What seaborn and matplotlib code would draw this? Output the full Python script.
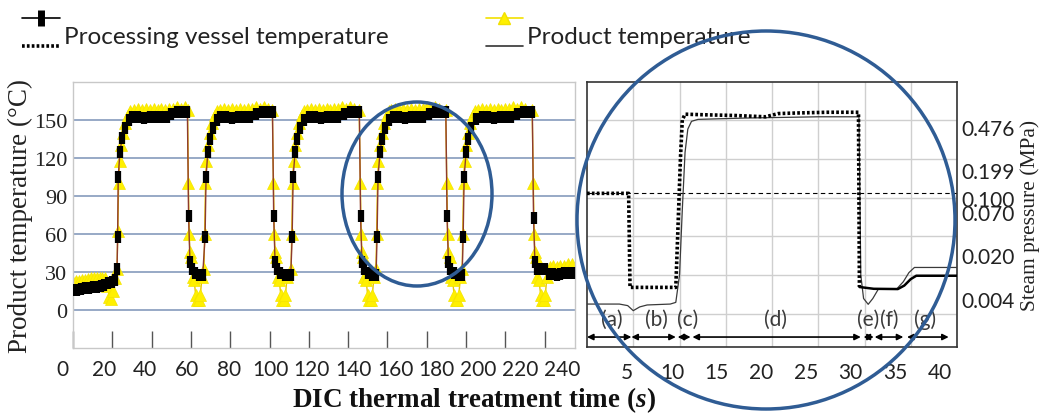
import matplotlib
matplotlib.use("Agg")
import numpy as np
import pandas as pd
import seaborn as sns
import matplotlib.pyplot as plt
from matplotlib.lines import Line2D
from matplotlib.patches import Ellipse
from matplotlib.legend_handler import HandlerBase
from matplotlib.transforms import ScaledTranslation

# ---------------- data : left panel (whole DIC run) ----------------
VESSEL_TIME = [0, 2, 4, 6, 8, 10, 12, 14, 16, 18, 20, 21.5,
               22.4, 22.7, 23.0, 23.9, 25.0, 26.5, 28.5, 30, 33, 36, 39, 42, 45, 48, 50, 53, 56, 58.2,
               58.8, 59.5, 60.5, 62, 64, 66,
               67.2, 67.7, 68.6, 69.7, 71.2, 73.5, 75, 78, 81, 84, 87, 90, 93, 96, 99, 101.5,
               102.1, 102.8, 103.8, 105.5, 108, 110.8,
               111.5, 112, 113, 114, 115.5, 117.5, 120, 123, 126, 129, 132, 135, 138, 141, 144, 145.7,
               146.3, 147, 148, 150, 152, 154.2,
               154.7, 155.2, 156.2, 157.2, 158.7, 160.7, 163, 166, 169, 172, 175, 178, 181, 184, 187, 189.7,
               190.3, 191, 192, 194, 196, 198,
               198.5, 199, 200, 201, 202.5, 205, 208, 211, 214, 217, 220, 223, 226, 229, 232, 233.7,
               234.3, 235, 236, 238, 240, 242, 244, 246, 248, 250, 252, 254]
VESSEL_TEMP = [16, 16, 16.5, 17, 17.5, 18, 18, 19, 20, 21, 22, 24,
               32, 58, 105, 125, 136, 144, 150, 152, 152, 151.5, 152, 152, 152.5, 152, 155, 156, 156, 156,
               74, 38, 32, 29, 28, 28,
               58, 105, 125, 135, 144, 150, 152, 152, 151.5, 152, 152, 152, 155, 156, 156, 156,
               74, 38, 32, 29, 28, 28,
               58, 105, 125, 135, 144, 150, 152, 152, 151.5, 152, 152, 152, 155, 156, 156, 156,
               74, 38, 32, 29, 28, 28,
               58, 105, 125, 135, 144, 150, 152, 152, 151.5, 152, 152, 152, 155, 156, 156, 156,
               74, 38, 32, 29, 28, 28,
               58, 105, 125, 135, 144, 151, 152, 152, 151.5, 152, 152, 152, 155, 156, 156, 156,
               73, 38, 32, 32, 32, 28.5, 28.5, 28, 28.5, 29, 29, 29]

PRODUCT_TIME = [0, 1.5, 3, 4.5, 6, 7.5, 9, 10.5, 12, 13.5, 15, 16.5, 17.5, 18.5, 19.5, 20.5, 21.5,
                22.4, 22.8, 23.2, 23.7, 24.4, 25.3, 26.5, 27.8, 29, 31, 33, 35, 37, 39, 41, 43, 45, 47, 49, 51, 53, 55, 57, 58.3,
                58.7, 59.1, 59.5, 60.2, 60.8, 61.6, 62.4, 63.2, 64.0, 64.8, 65.6, 66.6,
                67.0, 67.4, 67.9, 68.6, 69.5, 70.7, 72, 73.2, 75, 77, 79, 81, 83, 85, 87, 89, 91, 93, 95, 97, 99, 101.4,
                102.0, 102.4, 102.8, 103.5, 104.1, 104.9, 105.7, 106.5, 107.3, 108.1, 108.9, 110.9,
                111.3, 111.7, 112.2, 112.9, 113.8, 115, 116.3, 117.5, 119, 121, 123, 125, 127, 129, 131, 133, 135, 137, 139, 141, 143, 145.6,
                146.2, 146.6, 147, 147.7, 148.3, 149.1, 149.9, 150.7, 151.5, 152.3, 153.1, 154.1,
                154.5, 154.9, 155.4, 156.1, 157, 158.2, 159.5, 160.7, 162, 164, 166, 168, 170, 172, 174, 176, 178, 180, 182, 184, 186, 189.6,
                190.2, 190.6, 191, 191.7, 192.3, 193.1, 193.9, 194.7, 195.5, 196.3, 197.1, 198,
                198.3, 198.7, 199.2, 199.9, 200.8, 202, 203.3, 204.5, 206, 208, 210, 212, 214, 216, 218, 220, 222, 224, 226, 228, 230, 233.6,
                234.2, 234.6, 235, 235.7, 236.3, 237.1, 237.9, 238.7, 239.5, 240.3, 241.1, 242.5, 244, 246, 248, 250, 252, 254]
PRODUCT_TEMP = [22, 23, 23, 24, 24, 24.5, 25, 25, 25.5, 25.5, 25.5, 25, 19, 10, 9, 15, 25,
                32, 62, 100, 118, 130, 140, 148, 154, 157, 158, 159, 158, 159, 158, 159, 158, 159, 158, 159, 159, 160, 159, 160, 158,
                100, 60, 46, 42, 26, 24, 12, 8, 8, 12, 26, 32,
                60, 100, 118, 130, 140, 148, 154, 157, 158, 159, 158, 159, 158, 159, 158, 159, 159, 160, 159, 160, 159, 158,
                100, 60, 46, 42, 26, 24, 12, 8, 8, 12, 26, 32,
                60, 100, 118, 130, 140, 148, 154, 157, 158, 159, 158, 159, 158, 159, 158, 159, 159, 160, 159, 160, 159, 158,
                100, 60, 46, 42, 26, 24, 12, 8, 8, 12, 26, 32,
                60, 100, 118, 130, 140, 148, 154, 157, 158, 159, 158, 159, 158, 159, 158, 159, 159, 160, 159, 160, 159, 158,
                100, 60, 46, 42, 26, 24, 12, 8, 8, 12, 26, 32,
                60, 100, 118, 130, 140, 148, 154, 157, 158, 159, 158, 159, 158, 159, 158, 159, 159, 160, 159, 160, 159, 158,
                100, 60, 46, 42, 26, 24, 12, 8, 8, 12, 26, 34, 35, 34, 35, 35, 36, 36]

LEFT_XTICKS = [0, 20, 40, 60, 80, 100, 120, 140, 160, 180, 200, 220, 240]
LEFT_YTICKS = [0, 30, 60, 90, 120, 150]

# ---------------- data : right panel (one cycle, zoom) ----------------
R_VESSEL_TIME = [0, 4.5, 4.65, 9.6, 9.8, 10.1, 10.3, 10.6, 13, 16, 19.3, 20.7, 23, 26, 29.35, 29.45]
R_VESSEL_TEMP = [93.3, 93.3, 20.6, 20.6, 60, 120, 150, 154.5, 154, 153.5, 152.5, 155, 155.5, 156, 156, 20.9]
R_TAIL_TIME = [29.45, 31, 33.6, 34.3, 35.0, 35.6, 40]
R_TAIL_TEMP = [20.9, 19.5, 19.3, 22, 27, 29.6, 29.6]
R_PRODUCT_TIME = [0, 3.5, 4.4, 5.0, 5.7, 6.5, 9.0, 9.6, 10.0, 10.3, 10.6, 10.9, 11.3, 12, 17, 21, 25, 29.4,
                  29.6, 29.9, 30.4, 30.9, 31.5, 33.5, 34.2, 34.8, 35.4, 40]
R_PRODUCT_TEMP = [7.7, 7.7, 6.5, 2.6, 5.5, 7.0, 7.7, 9, 30, 80, 125, 143, 149, 150.5, 151.5, 152, 152.5, 152.5,
                  30, 12, 7.5, 12, 19.3, 19.5, 25, 32, 36, 36]
REF_LEVEL = 93.3
R_XTICKS = [5, 10, 15, 20, 25, 30, 35, 40]
R_YGRID = [0, 30, 60, 90, 120, 150]

PHASE_LABELS = ["(a)", "(b)", "(c)", "(d)", "(e)", "(f)", "(g)"]
PHASE_START = [0, 4.8, 9.8, 11.4, 29.9, 31.1, 34.6]
PHASE_END = [4.8, 9.6, 11.2, 29.6, 31.0, 34.2, 39.1]
PHASE_LABEL_AT = [2.7, 7.5, 10.9, 20.4, 30.4, 32.7, 36.6]

PRESSURE_TEMP = [150, 120, 100, 90, 60, 29]
PRESSURE_LABELS = ["0.476", "0.199", "0.100", "0.070", "0.020", "0.004"]

# ---------------- style ----------------
sns.set_style("white")
plt.rcParams["font.family"] = ["Lato", "DejaVu Sans"]
plt.rcParams["mathtext.fontset"] = "custom"
plt.rcParams["mathtext.it"] = "Liberation Serif:italic:bold"
plt.rcParams["mathtext.rm"] = "Liberation Serif:bold"

W, H = 1039, 414
DPI = 100
def fx(px):
    return px / W
def fy(py):
    return 1 - py / H

fig = plt.figure(figsize=(W / DPI, H / DPI), dpi=DPI)
fig.patch.set_facecolor("white")

axL = fig.add_axes([fx(73), fy(349), (575 - 73) / W, (349 - 83) / H])
axR = fig.add_axes([fx(587), fy(348), (957 - 587) / W, (348 - 83) / H])

SERIF = "Liberation Serif"

def shift_labels(labels, first_dx, last_dx):
    n = len(labels)
    for i, lab in enumerate(labels):
        dx = first_dx + (last_dx - first_dx) * i / (n - 1)
        lab.set_transform(lab.get_transform() + ScaledTranslation(dx / DPI, 0, fig.dpi_scale_trans))

# ---------- left panel ----------
sns.lineplot(x=PRODUCT_TIME, y=PRODUCT_TEMP, ax=axL, sort=False, estimator=None,
             color="#E8C400", lw=1.0, marker="^", markersize=8,
             markerfacecolor="#FFF000", markeredgecolor="#F4E400", markeredgewidth=0.5, zorder=2)
sns.lineplot(x=VESSEL_TIME, y=VESSEL_TEMP, ax=axL, sort=False, estimator=None,
             color="#8E3B2E", lw=1.0, marker="|", markersize=8,
             markeredgewidth=4.5, markeredgecolor="black", zorder=3)
axL.set_xlim(0, 255.4)
axL.set_ylim(-30, 180)
axL.set_xticks(LEFT_XTICKS)
axL.set_xticklabels([str(v) for v in LEFT_XTICKS])
axL.set_yticks(LEFT_YTICKS)
axL.set_yticklabels([str(v) for v in LEFT_YTICKS])
axL.yaxis.grid(True, color="#8FA3C2", lw=1.3)
axL.xaxis.grid(False)
axL.set_axisbelow(True)
axL.tick_params(axis="x", direction="in", length=12, width=1, color="#555555",
                labelsize=15, pad=8, bottom=True, labelcolor="#222222")
axL.tick_params(axis="y", length=0, labelsize=16, pad=4, labelcolor="#222222")
for lab in axL.get_yticklabels():
    lab.set_fontfamily(SERIF)
shift_labels(axL.get_xticklabels(), -11, 17)
for sp in axL.spines.values():
    sp.set_color("#C8C8C8")
    sp.set_linewidth(1)
axL.set_xlabel("")
axL.set_ylabel("Product temperature (°C)", fontsize=19.5, family=SERIF, color="#222222", labelpad=1)

# ---------- right panel ----------
axR.axhline(REF_LEVEL, color="black", lw=0.8, ls=(0, (4, 3)), zorder=2)
sns.lineplot(x=R_PRODUCT_TIME, y=R_PRODUCT_TEMP, ax=axR, sort=False, estimator=None,
             color="#3a3a3a", lw=0.9, zorder=3)
sns.lineplot(x=R_VESSEL_TIME, y=R_VESSEL_TEMP, ax=axR, sort=False, estimator=None,
             color="black", lw=2.6, linestyle=(0, (0.75, 0.6)), zorder=4)
sns.lineplot(x=R_TAIL_TIME, y=R_TAIL_TEMP, ax=axR, sort=False, estimator=None,
             color="black", lw=1.8, zorder=4)
axR.set_xlim(0, 40)
axR.set_ylim(-25.5, 179.4)
axR.set_xticks(R_XTICKS)
axR.set_xticklabels([str(v) for v in R_XTICKS])
axR.set_yticks(R_YGRID)
axR.grid(True, color="#CFCFCF", lw=1)
axR.set_axisbelow(True)
axR.tick_params(axis="x", direction="in", length=5, width=1, color="#333333",
                labelsize=15, pad=11, labelcolor="#222222")
axR.tick_params(axis="y", length=0, labelleft=False)
shift_labels(axR.get_xticklabels(), -6, -17)
for sp in axR.spines.values():
    sp.set_color("#333333")
    sp.set_linewidth(1.2)

arrow_y = -17.8
label_y = -3.9
for s, e in zip(PHASE_START, PHASE_END):
    axR.annotate("", xy=(e, arrow_y), xytext=(s, arrow_y),
                 arrowprops=dict(arrowstyle="<|-|>", color="black", lw=1.2,
                                 mutation_scale=9, shrinkA=0, shrinkB=0), zorder=5)
for lab, xp in zip(PHASE_LABELS, PHASE_LABEL_AT):
    axR.text(xp, label_y, lab, ha="center", va="center", fontsize=15, color="#3a3a3a", zorder=5)

ax2 = axR.twinx()
ax2.set_ylim(-4.9, 181.7)
ax2.set_yticks(PRESSURE_TEMP)
ax2.set_yticklabels(PRESSURE_LABELS)
ax2.tick_params(axis="y", length=0, labelsize=15, pad=3, labelcolor="#222222")
ax2.grid(False)
for sp in ax2.spines.values():
    sp.set_visible(False)
ax2.set_ylabel("Steam pressure (MPa)", fontsize=15.5, family=SERIF, color="#222222", labelpad=4)

# ---------- shared x label ----------
fig.text(fx(474), fy(400), r"DIC thermal treatment time ($\mathit{s}$)", ha="center", va="center",
         fontsize=19.5, fontweight="bold", family=SERIF, color="#111111")

# ---------- legend with stacked symbols ----------
class StackHandler(HandlerBase):
    def create_artists(self, legend, orig_handle, xdescent, ydescent, width, height, fontsize, trans):
        arts = []
        x0 = -xdescent
        for h, frac in zip(orig_handle, (1.0, 0.17)):
            y = -ydescent + frac * height
            ln = Line2D([x0, x0 + width], [y, y])
            ln.update_from(h)
            ln.set_marker("")
            ln.set_transform(trans)
            arts.append(ln)
            if h.get_marker() not in (None, "None", "", " "):
                mk = Line2D([x0 + width * 0.5], [y])
                mk.update_from(h)
                mk.set_linestyle("None")
                mk.set_transform(trans)
                arts.append(mk)
        return arts

h_v_top = Line2D([], [], color="black", lw=1.2, marker="|", markersize=11, markeredgewidth=5,
                 markeredgecolor="black")
h_v_bot = Line2D([], [], color="black", lw=2.6, linestyle=(0, (0.75, 0.6)))
h_p_top = Line2D([], [], color="#F2E000", lw=1.2, marker="^", markersize=9,
                 markerfacecolor="#FFF000", markeredgecolor="#F2E000")
h_p_bot = Line2D([], [], color="#333333", lw=1.2)

fig.legend(handles=[(h_v_top, h_v_bot), (h_p_top, h_p_bot)],
           labels=["Processing vessel temperature", "Product temperature"],
           handler_map={tuple: StackHandler()}, loc="upper left",
           bbox_to_anchor=(fx(20), fy(17)), ncol=2, frameon=False, fontsize=17.5,
           handlelength=1.55, handleheight=1.75, handletextpad=0.15, columnspacing=4.0,
           borderaxespad=0, borderpad=0.1, labelcolor="#222222")

# ---------- highlight ellipses ----------
fig.add_artist(Ellipse((fx(417), fy(195)), 150 / W, 184 / H, transform=fig.transFigure,
                       fill=False, ec="#2F5C94", lw=2.5, zorder=20))
fig.add_artist(Ellipse((fx(766), fy(221)), 378 / W, 378 / H, transform=fig.transFigure,
                       fill=False, ec="#2F5C94", lw=2.5, zorder=20))

fig.savefig("out.png", dpi=DPI, facecolor="white")
